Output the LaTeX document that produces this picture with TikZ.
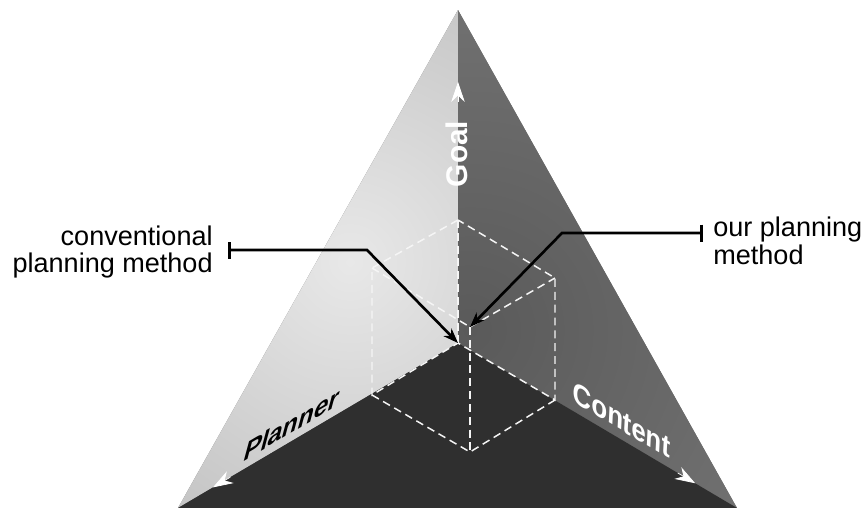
\documentclass[tikz,border=0pt]{standalone}
\usepackage{fontspec}
\setmainfont{Liberation Sans}
\usetikzlibrary{calc,arrows.meta}
\definecolor{leftIn}{HTML}{E8E8E8}
\definecolor{leftOut}{HTML}{A6A6A6}
\definecolor{rightIn}{HTML}{5A5A5A}
\definecolor{rightOut}{HTML}{777777}
\definecolor{baseFace}{HTML}{2F2F2F}
\tikzset{
    callout/.style={black, line width=1.5pt, {Bar[width=0.34cm]}-{Stealth[length=0.3cm,width=0.22cm]}},
    cubeedge/.style={white!92!gray, line width=0.85pt, dash pattern=on 4.5pt off 2.8pt},
    axistip/.style={white, line width=0.4pt, -{Stealth[length=0.4cm,width=0.27cm,inset=0.13cm]}},
    axislabel/.style={font=\fontsize{17}{17}\selectfont\bfseries, inner sep=0pt},
    note/.style={font=\fontsize{15.4}{15.9}\selectfont, inner ysep=0pt, inner xsep=0.3cm},
}
\begin{document}
\begin{tikzpicture}[x=0.02cm, y=-0.02cm]
\useasboundingbox (0,0) rectangle (867,508);
% corners of the pyramid
\coordinate (P) at (458,10);
\coordinate (BL) at (178,508);
\coordinate (BR) at (737,508);
\coordinate (E) at (458,343);
% faces
\fill[rightOut] (P) -- (BL) -- (BR) -- cycle;
\path[path picture={\shade[inner color=leftIn, outer color=leftOut] (350,262) circle (560);}] (P) -- (E) -- (BL) -- cycle;
\path[path picture={\shade[inner color=rightIn, outer color=rightOut] (470,330) circle (420);}] (P) -- (E) -- (BR) -- cycle;
\fill[baseFace] (E) -- (BL) -- (BR) -- cycle;
% cube
\coordinate (A) at (458,220);
\coordinate (B) at (372,268);
\coordinate (C) at (555,278);
\coordinate (D) at (470,327);
\coordinate (F) at (372,395);
\coordinate (G) at (555,400);
\coordinate (H) at (470,452);
\draw[cubeedge] (A) -- (B) -- (F) -- (E) -- (G) -- (C) -- cycle;
\draw[cubeedge] (B) -- (D) -- (C);
\draw[cubeedge] (D) -- (H);
\draw[cubeedge] (F) -- (H) -- (G);
\draw[cubeedge] (A) -- (E);
% axes
\coordinate (goaltip) at ($(E)!0.784!(P)$);
\coordinate (goalback) at ($(E)!0.724!(P)$);
\coordinate (plannertip) at ($(E)!0.875!(BL)$);
\coordinate (plannerback) at ($(E)!0.813!(BL)$);
\coordinate (contenttip) at ($(E)!0.85!(BR)$);
\coordinate (contentback) at ($(E)!0.788!(BR)$);
\draw[axistip] (goalback) -- (goaltip);
\draw[axistip] (plannerback) -- (plannertip);
\draw[axistip] (contentback) -- (contenttip);
\node[axislabel, white, rotate=90] (goal) at (457,154) {Goal};
\node[axislabel, cm={0.862,0.508,0.26,0.966,(0,0)}] (planner) at (292,424) {Planner};
\node[axislabel, white, cm={0.861,-0.508,0.05,1,(0,0)}] (content) at (622,420) {Content};
% callouts
\node[note, anchor=east, align=right] (conv) at (228,252) {conventional\\planning method};
\node[note, anchor=west, align=left, inner xsep=0.2cm] (ours) at (703,241) {our planning\\method};
\coordinate (convbend) at (367,250);
\coordinate (oursbend) at (562,233);
\draw[callout] (convbend -| conv.east) -- (convbend) -- (E);
\draw[callout] (oursbend -| ours.west) -- (oursbend) -- (D);
\end{tikzpicture}
\end{document}
